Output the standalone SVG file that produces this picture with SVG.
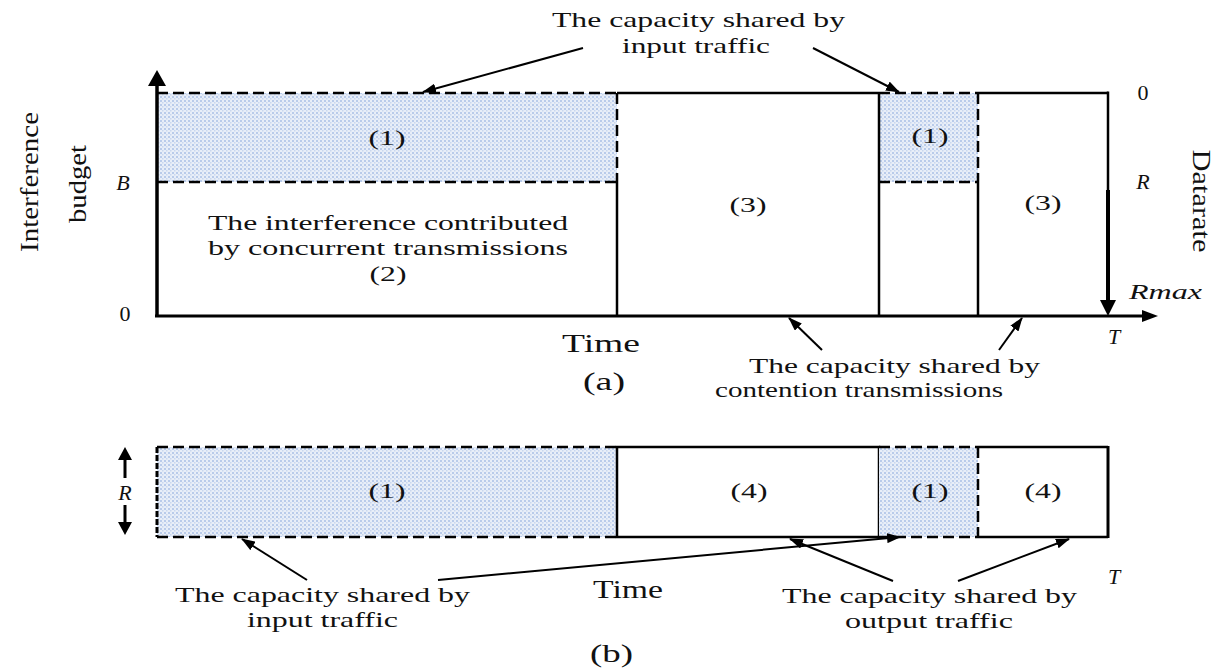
<svg xmlns="http://www.w3.org/2000/svg" width="1218" height="668" viewBox="0 0 1218 668">
<style>
text{font-family:"Liberation Serif","Times New Roman",serif;fill:#111}
.lbl{font-size:21px}
.num{font-size:20px;text-anchor:middle}
.it{font-style:italic;font-size:22px}
.ax{font-size:26px}
.solid{stroke:#000;stroke-width:2.5;fill:none}
.dash{stroke:#000;stroke-width:2.5;fill:none;stroke-dasharray:11 5}
.conn{stroke:#000;stroke-width:2;fill:none;marker-end:url(#ah)}
.shade{fill:url(#dots);stroke:none}
</style>
<defs>
<pattern id="dots" width="4" height="4" patternUnits="userSpaceOnUse">
<rect width="4" height="4" fill="#e8eef8"/>
<rect x="0" y="0" width="2" height="2" fill="#b9cbea"/>
<rect x="2" y="2" width="1.5" height="1.5" fill="#c9d7ef"/>
</pattern>
<marker id="ah" markerWidth="14" markerHeight="10" refX="13" refY="5" orient="auto" markerUnits="userSpaceOnUse">
<path d="M0,0 L14,5 L0,10 Z" fill="#000"/>
</marker>
</defs>
<rect width="1218" height="668" fill="#fff"/>

<g id="panel-a">
<g id="a-region1-left">
<rect class="shade" x="157" y="93" width="460" height="89"/>
<line class="dash" x1="157" y1="93" x2="617" y2="93"/>
<line class="dash" x1="157" y1="182" x2="617" y2="182"/>
<text class="num" x="387" y="145" textLength="37" lengthAdjust="spacingAndGlyphs">(1)</text>
</g>
<g id="a-region2">
<text class="lbl" x="208" y="230" textLength="360" lengthAdjust="spacingAndGlyphs">The interference contributed</text>
<text class="lbl" x="208" y="255" textLength="360" lengthAdjust="spacingAndGlyphs">by concurrent transmissions</text>
<text class="num" x="388" y="281" textLength="37" lengthAdjust="spacingAndGlyphs">(2)</text>
</g>
<g id="a-region3-left">
<line class="dash" x1="617" y1="93" x2="617" y2="182"/>
<line class="solid" x1="617" y1="182" x2="617" y2="316"/>
<line class="solid" x1="617" y1="93" x2="879" y2="93"/>
<text class="num" x="748" y="212" textLength="37" lengthAdjust="spacingAndGlyphs">(3)</text>
</g>
<g id="a-region1-right">
<rect class="shade" x="879" y="93" width="99" height="89"/>
<line class="solid" x1="879" y1="93" x2="879" y2="316"/>
<line class="dash" x1="879" y1="93" x2="978" y2="93"/>
<line class="dash" x1="879" y1="182" x2="978" y2="182"/>
<line class="dash" x1="978" y1="93" x2="978" y2="182"/>
<text class="num" x="930" y="143" textLength="37" lengthAdjust="spacingAndGlyphs">(1)</text>
</g>
<g id="a-region3-right">
<line class="solid" x1="978" y1="182" x2="978" y2="316"/>
<line class="solid" x1="978" y1="93" x2="1108" y2="93"/>
<text class="num" x="1043" y="210" textLength="37" lengthAdjust="spacingAndGlyphs">(3)</text>
</g>
<g id="a-axes">
<line x1="157" y1="316" x2="157" y2="84" stroke="#000" stroke-width="3.5"/>
<path d="M148,86 L157,70 L166,86 Z" fill="#000"/>
<line x1="155" y1="316" x2="1145" y2="316" stroke="#000" stroke-width="3"/>
<path d="M1142,310 L1158,316 L1142,322 Z" fill="#000"/>
<line x1="1108" y1="91.5" x2="1108" y2="190" stroke="#000" stroke-width="2.5"/>
<line x1="1108" y1="190" x2="1108" y2="302" stroke="#000" stroke-width="4"/>
<path d="M1100,300 L1108,316 L1116,300 Z" fill="#000"/>
<text x="125" y="321" font-size="22" text-anchor="middle">0</text>
<text class="it" x="123" y="190" text-anchor="middle">B</text>
<text x="1143" y="100" font-size="22" text-anchor="middle">0</text>
<text class="it" x="1143" y="189" text-anchor="middle">R</text>
<text class="it" x="1129" y="299" textLength="73" lengthAdjust="spacingAndGlyphs">Rmax</text>
<text class="it" x="1114" y="344" text-anchor="middle">T</text>
<text class="ax" transform="translate(38,182) rotate(-90)" text-anchor="middle" textLength="140" lengthAdjust="spacingAndGlyphs">Interference</text>
<text class="ax" transform="translate(86,184) rotate(-90)" text-anchor="middle" textLength="78" lengthAdjust="spacingAndGlyphs">budget</text>
<text class="ax" font-size="24" transform="translate(1193,201) rotate(90)" text-anchor="middle" textLength="103" lengthAdjust="spacingAndGlyphs">Datarate</text>
<text class="ax" x="562" y="352" textLength="78" lengthAdjust="spacingAndGlyphs">Time</text>
<text class="ax" x="583" y="390" font-size="24" textLength="42" lengthAdjust="spacingAndGlyphs">(a)</text>
</g>
<g id="a-label-top">
<text class="lbl" x="552" y="27" textLength="293" lengthAdjust="spacingAndGlyphs">The capacity shared by</text>
<text class="lbl" x="622" y="53" textLength="148" lengthAdjust="spacingAndGlyphs">input traffic</text>
</g>
<g id="a-label-bottom">
<text class="lbl" x="749" y="373" textLength="291" lengthAdjust="spacingAndGlyphs">The capacity shared by</text>
<text class="lbl" x="715" y="397" textLength="288" lengthAdjust="spacingAndGlyphs">contention transmissions</text>
</g>
</g>

<g id="panel-b">
<g id="b-region1-left">
<rect class="shade" x="157" y="447" width="460" height="90"/>
<line class="dash" x1="157" y1="447" x2="617" y2="447"/>
<line class="dash" x1="157" y1="537" x2="617" y2="537"/>
<line x1="157" y1="447" x2="157" y2="537" stroke="#000" stroke-width="3" stroke-dasharray="6 2"/>
<text class="num" x="387" y="498" textLength="37" lengthAdjust="spacingAndGlyphs">(1)</text>
</g>
<g id="b-region4-left">
<rect class="solid" x="617" y="447" width="262" height="90"/>
<text class="num" x="749" y="498" textLength="37" lengthAdjust="spacingAndGlyphs">(4)</text>
</g>
<g id="b-region1-right">
<rect class="shade" x="879" y="447" width="99" height="90"/>
<line class="dash" x1="879" y1="447" x2="978" y2="447"/>
<line class="dash" x1="879" y1="537" x2="978" y2="537"/>
<line class="dash" x1="978" y1="447" x2="978" y2="537"/>
<text class="num" x="930" y="498" textLength="37" lengthAdjust="spacingAndGlyphs">(1)</text>
</g>
<g id="b-region4-right">
<line class="solid" x1="978" y1="447" x2="1108" y2="447"/>
<line class="solid" x1="978" y1="537" x2="1108" y2="537"/>
<line x1="1108" y1="446" x2="1108" y2="538" stroke="#000" stroke-width="3"/>
<text class="num" x="1043" y="498" textLength="37" lengthAdjust="spacingAndGlyphs">(4)</text>
</g>
<g id="b-axis">
<line x1="125" y1="478" x2="125" y2="458" stroke="#000" stroke-width="3"/>
<path d="M118,460 L125,447 L132,460 Z" fill="#000"/>
<line x1="125" y1="505" x2="125" y2="524" stroke="#000" stroke-width="3"/>
<path d="M118,522 L125,535 L132,522 Z" fill="#000"/>
<text class="it" x="125" y="500" text-anchor="middle">R</text>
<text class="it" x="1114" y="584" text-anchor="middle">T</text>
<text class="ax" x="593" y="598" textLength="70" lengthAdjust="spacingAndGlyphs">Time</text>
<text class="ax" x="590" y="662" font-size="24" textLength="43" lengthAdjust="spacingAndGlyphs">(b)</text>
</g>
<g id="b-label-left">
<text class="lbl" x="175" y="602" textLength="295" lengthAdjust="spacingAndGlyphs">The capacity shared by</text>
<text class="lbl" x="247" y="627" textLength="151" lengthAdjust="spacingAndGlyphs">input traffic</text>
</g>
<g id="b-label-right">
<text class="lbl" x="782" y="603" textLength="295" lengthAdjust="spacingAndGlyphs">The capacity shared by</text>
<text class="lbl" x="845" y="628" textLength="168" lengthAdjust="spacingAndGlyphs">output traffic</text>
</g>
</g>

<g id="connectors">
<line class="conn" x1="583" y1="48" x2="423" y2="92"/>
<line class="conn" x1="813" y1="48" x2="899" y2="92"/>
<line class="conn" x1="822" y1="350" x2="789" y2="318"/>
<line class="conn" x1="999" y1="350" x2="1022" y2="318"/>
<line class="conn" x1="307" y1="580" x2="242" y2="539"/>
<line class="conn" x1="438" y1="580" x2="900" y2="537"/>
<line class="conn" x1="893" y1="581" x2="790" y2="539"/>
<line class="conn" x1="958" y1="581" x2="1069" y2="539"/>
</g>
</svg>
